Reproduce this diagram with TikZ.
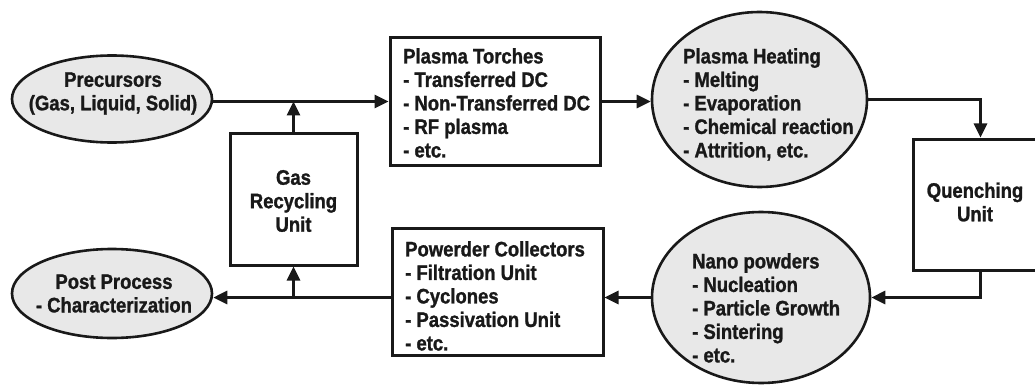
\documentclass[tikz,border=0pt]{standalone}
\usepackage{fontspec}
\setmainfont{Liberation Sans}[FakeStretch=0.88,BoldFeatures={FakeBold=1.2}]
\usetikzlibrary{arrows.meta,shapes.geometric,calc}
\definecolor{ellgray}{RGB}{232,232,232}
\definecolor{ink}{RGB}{25,25,25}
\begin{document}
\begin{tikzpicture}[x=1pt,y=-1pt,
  txt/.style={font=\bfseries\fontsize{21}{23.5}\selectfont, align=left, inner sep=0pt, text=ink},
  ctxt/.style={txt, align=center},
  box/.style={draw=ink, line width=3pt, fill=white, rectangle, inner sep=0pt},
  ell/.style={draw=ink, ellipse, line width=2.6pt, fill=ellgray, inner sep=0pt},
  ln/.style={draw=ink, line width=2.8pt},
  arr/.style={ln, -{Triangle[length=14pt,width=13pt]}}]
\useasboundingbox (0,0) rectangle (1035,385);
\fill[white] (0,0) rectangle (1035,385);
\begin{scope}
\clip (0,0) rectangle (1035,385);
% nodes
\node[ell, minimum width=200pt, minimum height=87pt] (prec) at (112,99) {};
\node[ctxt] (prect) at (113,93.5) {Precursors\\(Gas, Liquid, Solid)};

\node[box, minimum width=210pt, minimum height=127pt] (torch) at (495,101.5) {};
\node[txt, anchor=north west] (torcht) at (403,48) {Plasma Torches\\- Transferred DC\\- Non-Transferred DC\\- RF plasma\\- etc.};

\node[ell, minimum width=215pt, minimum height=175pt] (heat) at (759.5,99.5) {};
\node[txt, anchor=north west] (heatt) at (683,48) {Plasma Heating\\- Melting\\- Evaporation\\- Chemical reaction\\- Attrition, etc.};

\node[box, minimum width=124pt, minimum height=131pt] (quench) at (975,204.5) {};
\node[ctxt] (quencht) at (975,202) {Quenching\\Unit};

\node[box, minimum width=127pt, minimum height=132pt] (gas) at (293.5,199) {};
\node[ctxt] (gast) at (293.5,201) {Gas\\Recycling\\Unit};

\node[box, minimum width=211pt, minimum height=127pt] (coll) at (497.5,291.5) {};
\node[txt, anchor=north west] (collt) at (405,241) {Powerder Collectors\\- Filtration Unit\\- Cyclones\\- Passivation Unit\\- etc.};

\node[ell, minimum width=218pt, minimum height=171pt] (nano) at (761,297.5) {};
\node[txt, anchor=north west] (nanot) at (692,253) {Nano powders\\- Nucleation\\- Particle Growth\\- Sintering\\- etc.};

\node[ell, minimum width=200pt, minimum height=89pt] (post) at (112,293.5) {};
\node[ctxt] (postt) at (114,293.5) {Post Process\\- Characterization};

% connectors
\coordinate (j1) at (gas.north |- torch.west);
\coordinate (j2) at (gas.south |- nano.west);
\coordinate (qin) at ($(quench.north west)+(69,0)$);
\coordinate (qout) at ($(quench.south west)+(69,0)$);

\draw[arr] (prec.east |- torch.west) -- (torch.west);
\draw[arr] (gas.north) -- (j1);
\draw[arr] (torch.east) -- (heat.west |- torch.east);
\draw[arr] (heat.east) -| (qin);
\draw[arr] (qout) |- (nano.east);
\draw[arr] (nano.west) -- (coll.east |- nano.west);
\draw[arr] (coll.west |- nano.west) -- (post.east |- nano.west);
\draw[arr] (j2) -- (gas.south);
\end{scope}
\end{tikzpicture}
\end{document}
